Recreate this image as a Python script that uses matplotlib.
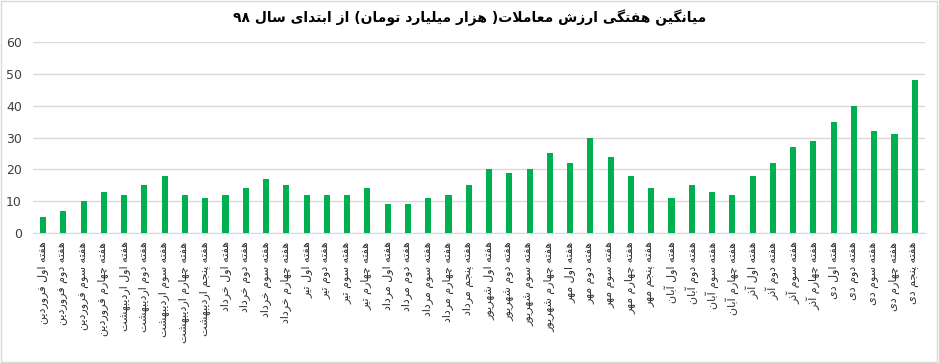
import re
import matplotlib
matplotlib.use("Agg")
import matplotlib.pyplot as plt

plt.rcParams['font.family'] = ['DejaVu Sans']

title = "میانگین هفتگی ارزش معاملات( هزار میلیارد تومان) از ابتدای سال ۹۸"

weeks = [
    "هفته اول فروردین", "هفته دوم فروردین", "هفته سوم فروردین", "هفته چهارم فروردین",
    "هفته اول اردیبهشت", "هفته دوم اردیبهشت", "هفته سوم اردیبهشت", "هفته چهارم اردیبهشت",
    "هفته پنجم اردیبهشت",
    "هفته اول خرداد", "هفته دوم خرداد", "هفته سوم خرداد", "هفته چهارم خرداد",
    "هفته اول تیر", "هفته دوم تیر", "هفته سوم تیر", "هفته چهارم تیر",
    "هفته اول مرداد", "هفته دوم مرداد", "هفته سوم مرداد", "هفته چهارم مرداد",
    "هفته پنجم مرداد",
    "هفته اول شهریور", "هفته دوم شهریور", "هفته سوم شهریور", "هفته چهارم شهریور",
    "هفته اول مهر", "هفته دوم مهر", "هفته سوم مهر", "هفته چهارم مهر", "هفته پنجم مهر",
    "هفته اول آبان", "هفته دوم آبان", "هفته سوم آبان", "هفته چهارم آبان",
    "هفته اول آذر", "هفته دوم آذر", "هفته سوم آذر", "هفته چهارم آذر",
    "هفته اول دی", "هفته دوم دی", "هفته سوم دی", "هفته چهارم دی", "هفته پنجم دی",
]

values = [5, 7, 10, 13, 12, 15, 18, 12, 11, 12, 14, 17, 15, 12, 12, 12, 14,
          9, 9, 11, 12, 15, 20, 19, 20, 25, 22, 30, 24, 18, 14, 11, 15, 13, 12,
          18, 22, 27, 29, 35, 40, 32, 31, 48]

yticks = [0, 10, 20, 30, 40, 50, 60]

# presentation forms: isolated, final, initial, medial
FORMS = {
    'ا': (0xFE8D, 0xFE8E), 'آ': (0xFE81, 0xFE82), 'د': (0xFEA9, 0xFEAA),
    'ذ': (0xFEAB, 0xFEAC), 'ر': (0xFEAD, 0xFEAE), 'ز': (0xFEAF, 0xFEB0),
    'ژ': (0xFB8A, 0xFB8B), 'و': (0xFEED, 0xFEEE),
    'ب': (0xFE8F, 0xFE90, 0xFE91, 0xFE92), 'پ': (0xFB56, 0xFB57, 0xFB58, 0xFB59),
    'ت': (0xFE95, 0xFE96, 0xFE97, 0xFE98), 'ث': (0xFE99, 0xFE9A, 0xFE9B, 0xFE9C),
    'ج': (0xFE9D, 0xFE9E, 0xFE9F, 0xFEA0), 'چ': (0xFB7A, 0xFB7B, 0xFB7C, 0xFB7D),
    'ح': (0xFEA1, 0xFEA2, 0xFEA3, 0xFEA4), 'خ': (0xFEA5, 0xFEA6, 0xFEA7, 0xFEA8),
    'س': (0xFEB1, 0xFEB2, 0xFEB3, 0xFEB4), 'ش': (0xFEB5, 0xFEB6, 0xFEB7, 0xFEB8),
    'ص': (0xFEB9, 0xFEBA, 0xFEBB, 0xFEBC), 'ض': (0xFEBD, 0xFEBE, 0xFEBF, 0xFEC0),
    'ط': (0xFEC1, 0xFEC2, 0xFEC3, 0xFEC4), 'ظ': (0xFEC5, 0xFEC6, 0xFEC7, 0xFEC8),
    'ع': (0xFEC9, 0xFECA, 0xFECB, 0xFECC), 'غ': (0xFECD, 0xFECE, 0xFECF, 0xFED0),
    'ف': (0xFED1, 0xFED2, 0xFED3, 0xFED4), 'ق': (0xFED5, 0xFED6, 0xFED7, 0xFED8),
    'ک': (0xFB8E, 0xFB8F, 0xFB90, 0xFB91), 'گ': (0xFB92, 0xFB93, 0xFB94, 0xFB95),
    'ل': (0xFEDD, 0xFEDE, 0xFEDF, 0xFEE0), 'م': (0xFEE1, 0xFEE2, 0xFEE3, 0xFEE4),
    'ن': (0xFEE5, 0xFEE6, 0xFEE7, 0xFEE8), 'ه': (0xFEE9, 0xFEEA, 0xFEEB, 0xFEEC),
    'ی': (0xFBFC, 0xFBFD, 0xFBFE, 0xFBFF),
}


def shape(text):
    # join letters, then put them in visual (left to right) order
    chars = list(text)
    out = []
    i = 0
    while i < len(chars):
        c = chars[i]
        if c not in FORMS:
            out.append(c)
            i += 1
            continue
        prev = chars[i - 1] if i > 0 else None
        joins_prev = prev in FORMS and len(FORMS[prev]) == 4
        if c == 'ل' and i + 1 < len(chars) and chars[i + 1] == 'ا':
            out.append(chr(0xFEFC if joins_prev else 0xFEFB))
            i += 2
            continue
        nxt = chars[i + 1] if i + 1 < len(chars) else None
        f = FORMS[c]
        joins_next = len(f) == 4 and nxt in FORMS
        if joins_prev and joins_next:
            out.append(chr(f[3]))
        elif joins_prev:
            out.append(chr(f[1]))
        elif joins_next:
            out.append(chr(f[2]))
        else:
            out.append(chr(f[0]))
        i += 1
    vis = ''.join(out)[::-1]
    vis = vis.translate(str.maketrans('()', ')('))
    vis = re.sub('[۰-۹0-9]+', lambda m: m.group(0)[::-1], vis)
    return vis


fig = plt.figure(figsize=(9.39, 3.63), dpi=100)
fig.patches.append(plt.Rectangle((0.001, 0.002), 0.997, 0.995, transform=fig.transFigure,
                                 fill=False, edgecolor='#D9D9D9', linewidth=1))
ax = fig.add_axes([0.035, 0.358, 0.95, 0.526])

x = list(range(len(values)))
ax.bar(x, values, width=0.3, color='#00B050', zorder=3)

ax.set_xlim(-0.5, len(values) - 0.5)
ax.set_ylim(0, 60)
ax.set_yticks(yticks)
ax.set_yticklabels([str(v) for v in yticks], fontsize=9, color='#404040')
ax.set_xticks(x)
ax.set_xticklabels([shape(w) for w in weeks], rotation=90, ha='center', va='top',
                   fontsize=8, color='#303030')
ax.tick_params(axis='both', length=0)
ax.tick_params(axis='x', pad=6)
ax.tick_params(axis='y', pad=8)

ax.grid(axis='y', color='#D9D9D9', linewidth=1, zorder=0)
for s in ['top', 'right', 'left']:
    ax.spines[s].set_visible(False)
ax.spines['bottom'].set_color('#D9D9D9')

fig.text(0.5, 0.95, shape(title), ha='center', va='center', fontsize=10,
         fontweight='bold', color='#000000')

fig.savefig('out.png', dpi=100)
